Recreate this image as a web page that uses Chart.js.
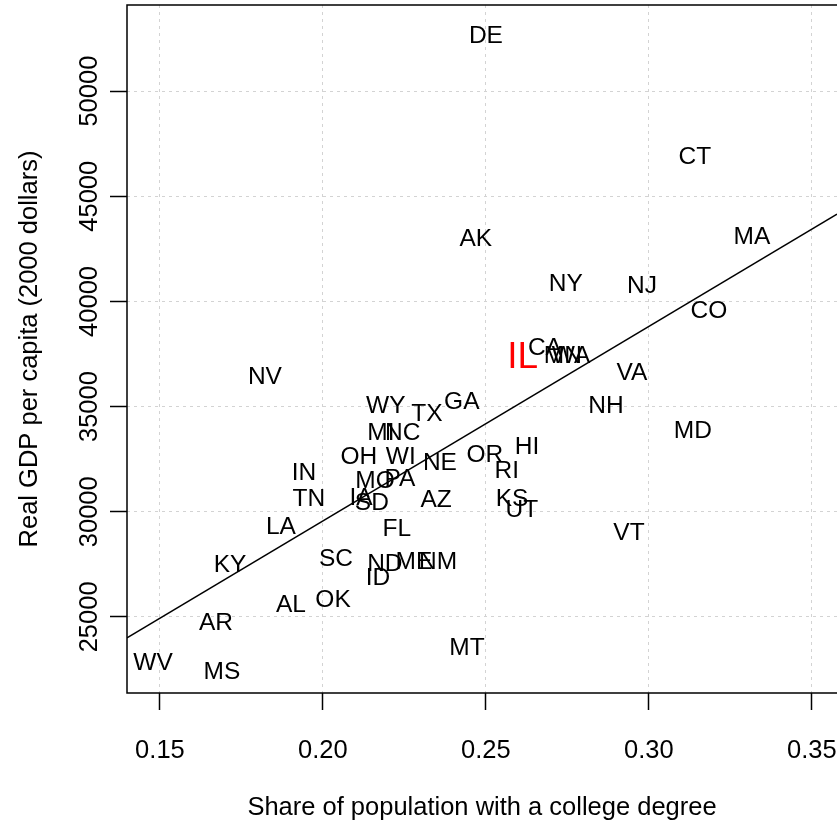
<!DOCTYPE html>
<html><head><meta charset="utf-8">
<script src="https://cdn.jsdelivr.net/npm/chart.js@4/dist/chart.umd.min.js"></script>
<style>html,body{margin:0;padding:0;background:#fff;overflow:hidden}</style>
</head><body>
<canvas id="c" width="837" height="826" style="display:block;width:837px;height:826px"></canvas>
<script>
// ---- data ----
const states = ['DE','CT','MA','AK','NY','NJ','CO','IL','CA','MN','WA','VA','NV','GA','NH','WY','TX','MI','NC','MD',
  'HI','OH','WI','NE','OR','IN','RI','MO','PA','IA','TN','SD','AZ','KS','UT','LA','FL','VT','SC','KY',
  'ND','ME','NM','ID','OK','AL','AR','MT','WV','MS'];
const collegeShare = [0.2500,0.3141,0.3316,0.2469,0.2745,0.2979,0.3184,0.2613,0.2681,0.2736,0.2761,0.2948,0.1822,0.2426,0.2868,0.2193,0.2319,0.2178,0.2245,0.3135,
  0.2626,0.2110,0.2239,0.2359,0.2497,0.1942,0.2564,0.2160,0.2236,0.2117,0.1957,0.2150,0.2347,0.2580,0.2610,0.1871,0.2227,0.2939,0.2040,0.1715,
  0.2190,0.2279,0.2353,0.2169,0.2031,0.1902,0.1672,0.2442,0.1479,0.1690];
const gdpPerCapita = [52619,46857,43048,42952,40810,40714,39524,37333,37762,37381,37381,36571,36381,35190,35000,35000,34619,33714,33714,33810,
  33048,32571,32571,32286,32667,31810,31905,31429,31524,30619,30571,30381,30524,30571,30048,29286,29190,29000,27762,27476,
  27524,27619,27619,26857,25810,25571,24714,23524,22810,22381];
const highlightState = 'IL';
const fitLineX = [0.1399, 0.3577];
const fitLineY = [24000, 44150];
const xTicks = [0.15, 0.20, 0.25, 0.30, 0.35];
const yTicks = [25000, 30000, 35000, 40000, 45000, 50000];
const xLimits = [0.1399, 0.3577];
const yLimits = [21381, 54095];
const xTitle = 'Share of population with a college degree';
const yTitle = 'Real GDP per capita (2000 dollars)';

const FONT = '"Liberation Sans", Arial, Helvetica, sans-serif';
const FS = 24.5;   // state labels
const AFS = 25.5;  // axis text

const labelPlugin = {
  id: 'stateLabels',
  afterDatasetsDraw(chart) {
    const ctx = chart.ctx;
    const meta = chart.getDatasetMeta(0);
    ctx.save();
    ctx.textAlign = 'center';
    ctx.textBaseline = 'middle';
    meta.data.forEach((el, i) => {
      const hl = states[i] === highlightState;
      ctx.font = (hl ? 37 : FS) + 'px ' + FONT;
      ctx.fillStyle = hl ? '#ff0000' : '#000000';
      ctx.fillText(states[i], el.x, el.y);
    });
    ctx.restore();
  }
};

const framePlugin = {
  id: 'frame',
  afterDraw(chart) {
    const {ctx, chartArea: a} = chart;
    ctx.save();
    ctx.strokeStyle = '#000';
    ctx.lineWidth = 1.5;
    ctx.beginPath();
    ctx.moveTo(a.right + 2, a.top);
    ctx.lineTo(a.left, a.top);
    ctx.lineTo(a.left, a.bottom);
    ctx.lineTo(a.right + 2, a.bottom);
    ctx.stroke();
    // rotated y tick labels
    const ys = chart.scales.y;
    ctx.fillStyle = '#000';
    ctx.font = AFS + 'px ' + FONT;
    ctx.textAlign = 'center';
    ctx.textBaseline = 'middle';
    yTicks.forEach(v => {
      const py = ys.getPixelForValue(v);
      ctx.save();
      ctx.translate(90, py);
      ctx.rotate(-Math.PI / 2);
      ctx.fillText(String(v), 0, 0);
      ctx.restore();
    });
    ctx.restore();
  }
};

new Chart(document.getElementById('c'), {
  type: 'scatter',
  data: {
    datasets: [
      { data: states.map((s, i) => ({x: collegeShare[i], y: gdpPerCapita[i]})), pointRadius: 0, pointHoverRadius: 0 },
      { type: 'line', data: fitLineX.map((x, i) => ({x, y: fitLineY[i]})), borderColor: '#000', borderWidth: 1.5,
        pointRadius: 0, fill: false, tension: 0 }
    ]
  },
  options: {
    responsive: false,
    animation: false,
    devicePixelRatio: 1,
    layout: { padding: { top: 5, right: 0, left: 0, bottom: 0 } },
    plugins: { legend: { display: false }, tooltip: { enabled: false } },
    scales: {
      x: {
        type: 'linear', position: 'bottom', min: xLimits[0], max: xLimits[1],
        afterBuildTicks: s => { s.ticks = xTicks.map(v => ({value: v})); },
        afterFit: s => { s.height = 133; s.paddingLeft = 0; s.paddingRight = 0; },
        grid: { color: '#d3d3d3', lineWidth: 1, tickLength: 17, tickColor: '#000', tickWidth: 1.5, tickBorderDash: [] },
        border: { display: false, dash: [3, 4] },
        ticks: { font: { family: FONT, size: AFS }, color: '#000', padding: 26, maxRotation: 0, autoSkip: false,
                 callback: v => Number(v).toFixed(2) },
        title: { display: true, text: xTitle, color: '#000', font: { family: FONT, size: AFS }, padding: { top: 0, bottom: 3 } }
      },
      y: {
        type: 'linear', position: 'left', min: yLimits[0], max: yLimits[1],
        afterBuildTicks: s => { s.ticks = yTicks.map(v => ({value: v})); },
        afterFit: s => { s.width = 127; s.paddingTop = 0; s.paddingBottom = 0; },
        grid: { color: '#d3d3d3', lineWidth: 1, tickLength: 17, tickColor: '#000', tickWidth: 1.5, tickBorderDash: [] },
        border: { display: false, dash: [3, 4] },
        ticks: { display: false },
        title: { display: true, text: yTitle, color: '#000', font: { family: FONT, size: AFS }, padding: { top: 15, bottom: 0 } }
      }
    }
  },
  plugins: [labelPlugin, framePlugin]
});
</script>
</body></html>
